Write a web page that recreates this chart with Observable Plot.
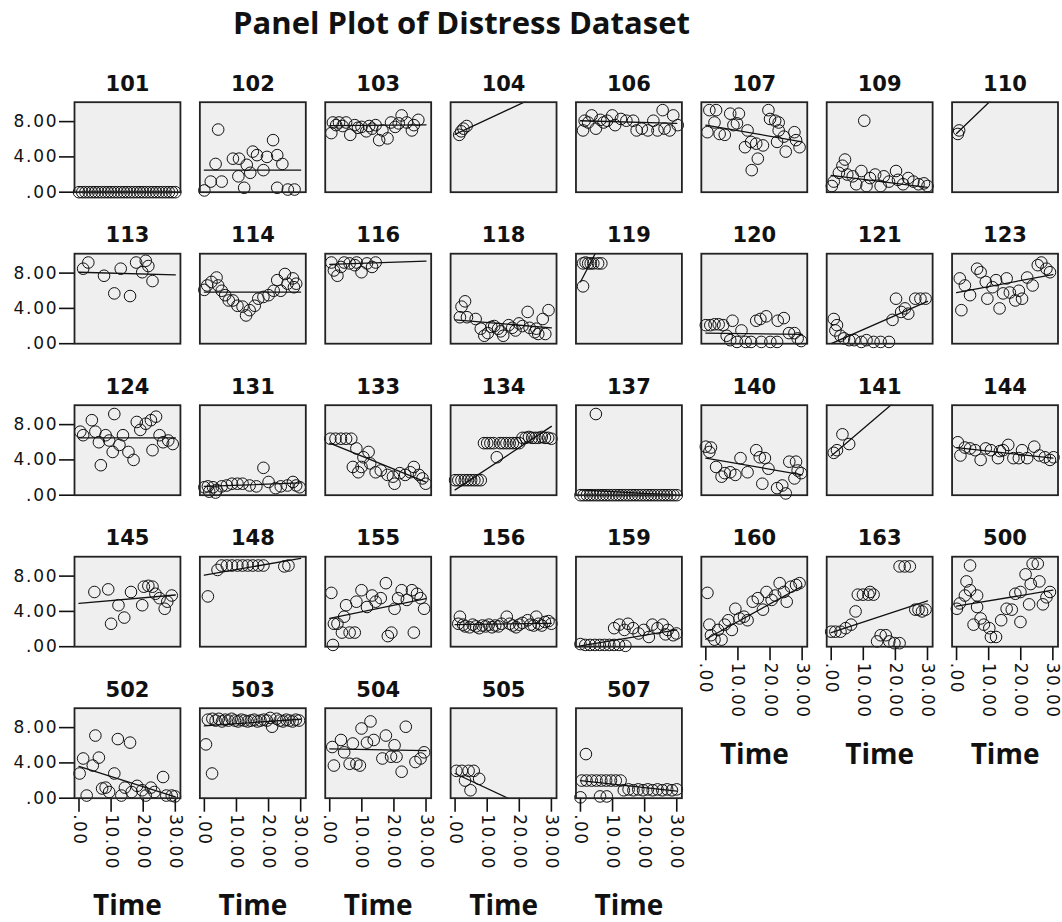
<!DOCTYPE html>
<html>
<head>
<meta charset="utf-8">
<script src="https://cdn.jsdelivr.net/npm/d3@7"></script>
<script src="https://cdn.jsdelivr.net/npm/@observablehq/plot@0.6"></script>
<style>
  body { margin: 0; background: #ffffff; }
  #wrap { position: relative; width: 1062px; height: 922px; overflow: hidden; font-family: "DejaVu Sans", sans-serif; }
  #title { position: absolute; left: 0; width: 923px; top: 7px; line-height: 31px; text-align: center;
           font-family: "Open Sans", sans-serif; font-size: 31px; font-weight: bold; color: #111; white-space: nowrap; }
  #chart { position: absolute; left: 0; top: 40px; }
  #chart svg { overflow: visible; }
  [aria-label="y-axis tick label"] text { letter-spacing: 1.8px; }
  [aria-label="x-axis tick label"] text { letter-spacing: 1.4px; }
</style>
</head>
<body>
<div id="wrap">
  <div id="title">Panel Plot of Distress Dataset</div>
  <div id="chart"></div>
</div>
<script>
// ---- data: [Time, Distress] per subject ----
const subjects = ["101","102","103","104","106","107","109","110",
                  "113","114","116","118","119","120","121","123",
                  "124","131","133","134","137","140","141","144",
                  "145","148","155","156","159","160","163","500",
                  "502","503","504","505","507"];

const s101 = [[0,0],[1,0],[2,0],[3,0],[4,0],[5,0],[6,0],[7,0],[8,0],[9,0],[10,0],[11,0],[12,0],[13,0],[14,0],[15,0],[16,0],[17,0],[18,0],[19,0],[20,0],[21,0],[22,0],[23,0],[24,0],[25,0],[26,0],[27,0],[28,0],[29,0],[30,0]];
const s102 = [[0,0.2],[2,1.2],[3.5,3.2],[4.3,7.1],[5.4,1.2],[8.9,3.8],[10.6,1.8],[10.8,3.8],[12.4,0.5],[13.2,3.1],[14.3,2.2],[15.1,4.6],[16.4,4.2],[18.4,2.5],[19.5,4.0],[21.4,5.9],[22.7,4.2],[22.7,0.5],[24.3,3.2],[26,0.3],[28.1,0.3]];
const s103 = [[0.5,6.7],[1,7.9],[2,7.6],[2.9,7.9],[4,7.5],[5.1,7.9],[6.4,6.5],[7.8,7.6],[8.8,7.3],[9.9,7.4],[11.4,6.9],[12.3,7.5],[13.2,7.2],[14.3,7.6],[15.4,5.9],[16.4,7.0],[18,6.1],[19.1,7.9],[20.4,7.4],[21.5,7.8],[22.4,8.7],[24,7.9],[25.6,7.0],[26.2,7.6],[27.6,8.2]];
const s104 = [[1.3,6.5],[1.9,6.9],[2.6,7.2],[3.6,7.5]];
const s106 = [[0.8,7.0],[1.3,8.1],[2.4,7.9],[3.5,8.7],[4.8,7.2],[6.2,8.2],[7.2,7.9],[8.3,8.1],[9.9,8.7],[10.8,7.6],[12.6,8.3],[14.3,8.1],[16.4,8.1],[17.5,7.0],[19.1,7.2],[21,7.0],[22.7,8.1],[24,7.0],[25.6,9.3],[26.2,7.2],[27.8,7.0],[28.9,8.7],[30.3,7.6]];
const s107 = [[0.5,6.8],[1.1,9.3],[2.7,7.9],[3.2,9.3],[4.3,6.6],[5.9,6.5],[7.6,8.9],[8.6,7.6],[9.7,7.8],[10.3,8.9],[12.2,5.1],[13,7.0],[14.1,5.7],[14.3,2.5],[15.7,5.5],[16.2,3.8],[17.8,5.3],[19.5,9.3],[20,8.3],[21.6,8.1],[22.2,5.7],[22.7,7.0],[22.7,7.9],[24.3,6.3],[24.9,4.6],[27.6,6.8],[28.1,5.9],[29.2,5.1]];
const s109 = [[0.2,0.7],[0.8,1.2],[2.4,2.2],[3.5,3.0],[4.3,3.7],[5,2.0],[6.7,1.8],[7.8,0.9],[9.4,2.4],[10.3,8.1],[11,0.7],[12.1,1.6],[13.7,2.0],[15.4,0.7],[16.4,1.8],[18,1.2],[20.2,2.4],[20.8,1.4],[22.4,0.9],[24,1.6],[25.6,1.2],[27.2,0.9],[28.9,1.0],[30,0.7]];
const s110 = [[0.4,6.6],[0.8,7.0]];
const s113 = [[1.3,8.5],[2.9,9.2],[7.8,7.7],[11,5.7],[13,8.5],[15.9,5.4],[17.8,9.2],[19.7,8.1],[20.8,9.4],[21.6,8.8],[22.9,7.1]];
const s114 = [[0,6.1],[0.9,6.6],[2.2,7.0],[3.8,7.5],[4.3,6.6],[5.4,6.0],[6.5,5.5],[7.6,4.9],[8.9,4.9],[10.3,4.3],[11.9,4.2],[13,3.2],[14.1,3.8],[15.7,4.3],[16.8,5.1],[18.4,5.3],[20,5.5],[21.6,6.0],[22.7,7.2],[23.8,6.0],[25.1,7.9],[25.9,6.8],[27.6,7.4],[27.9,6.4],[28.6,6.8]];
const s116 = [[0.5,9.2],[1.3,8.3],[2.4,7.7],[3.5,8.7],[4.5,9.2],[6.2,9.1],[7.8,8.9],[8.4,9.2],[9.9,8.1],[11.6,9.1],[13.2,8.7],[14.3,9.2]];
const s118 = [[1.5,3.0],[2,4.2],[3.1,4.8],[3.7,3.0],[6.4,2.8],[8,1.7],[9.1,0.9],[10.2,1.2],[11.3,1.9],[12.2,2.0],[13.4,1.7],[14.2,1.4],[15,0.9],[16.7,2.1],[17.8,1.8],[18.8,1.5],[19.9,2.3],[21,2.0],[22.6,3.6],[23.2,1.8],[24.8,1.3],[25.3,1.7],[25.9,1.1],[27.3,2.8],[28.1,1.1],[29.1,3.8]];
const s119 = [[0.8,6.5],[0.8,9.1],[1.6,9.2],[2.4,9.1],[3.2,9.1],[4.0,9.1],[5.5,9.1],[6.5,9.1]];
const s120 = [[0,2.1],[1.4,2.1],[2.7,2.2],[4,2.2],[5.4,2.1],[6.5,0.9],[7.6,0.4],[8.3,2.6],[9.7,0.2],[11.1,1.5],[12.4,0.2],[14.1,0.2],[15.7,2.6],[17,2.8],[17.3,0.2],[18.8,3.1],[20.1,0.2],[22.2,0.2],[22.4,2.6],[24.3,2.9],[25.9,1.2],[27.6,1.2],[28.6,0.6],[29.7,0.3]];
const s121 = [[0.8,2.8],[1.3,1.5],[1.8,2.1],[2.9,0.9],[4,0.6],[5.6,0.4],[7.2,0.4],[9.4,0.2],[11,0.4],[13.2,0.2],[15.4,0.2],[18,0.2],[19.1,2.7],[20.2,5.1],[21.8,3.6],[23,4.0],[24,3.4],[26.2,5.1],[27.8,5.1],[29.4,5.1]];
const s123 = [[1,7.4],[1.5,3.8],[2.6,6.6],[4.2,5.5],[6.4,8.5],[7.5,8.1],[9.1,7.0],[9.6,5.1],[11.2,6.4],[12.3,7.2],[13.4,4.0],[14.5,5.7],[15.6,7.4],[16.6,5.8],[18.3,4.9],[19.4,6.0],[20.4,5.1],[22,7.5],[23.7,6.6],[25.3,8.9],[26.4,9.2],[28,8.5],[29.1,8.1]];
const s124 = [[0.4,7.2],[1.3,6.8],[4,8.5],[5.1,7.2],[6.2,6.0],[6.8,3.4],[8.3,6.8],[9.4,6.2],[10.5,4.9],[11,9.2],[12.6,5.7],[13.7,6.8],[15.4,4.9],[17,4.0],[18,8.3],[19.1,7.4],[20.8,8.1],[22.4,8.5],[22.9,5.1],[24,8.9],[25.1,6.8],[26.2,6.0],[27.8,6.2],[29.2,5.8]];
const s131 = [[0,0.9],[1.1,1.0],[1.5,0.4],[2.7,0.9],[3.5,0.3],[3.8,0.6],[5.4,1.0],[7,1.1],[8.6,1.3],[10.3,1.3],[11.9,1.3],[14.1,1.1],[16.2,1.0],[18.4,3.1],[20,1.5],[22.2,0.8],[23.8,1.0],[25.9,1.1],[27.6,1.5],[28.6,1.1],[29.7,0.9]];
const s133 = [[0.2,6.4],[1.8,6.4],[3.5,6.4],[5.1,6.4],[6.7,6.4],[7.2,3.2],[8.3,5.3],[8.9,2.6],[9.9,3.2],[10.5,4.3],[12.1,4.9],[12.6,3.6],[14.3,2.6],[15.9,2.8],[18,2.3],[19.7,2.1],[20.2,1.3],[21.8,2.5],[23.5,2.3],[25.1,2.6],[26.2,3.2],[27.8,2.3],[28.9,1.9],[29.9,1.3]];
const s134 = [[0,1.7],[1,1.7],[2,1.7],[3,1.7],[4,1.7],[5,1.7],[6,1.7],[7,1.7],[8,1.7],[9,5.9],[10,5.9],[11,5.9],[12,5.9],[13,4.3],[14,5.9],[15,5.9],[16,5.9],[17,5.9],[18,5.9],[19,5.9],[20,5.9],[21,6.5],[22,6.5],[23,6.6],[24,6.5],[25,6.5],[26,6.5],[27,6.6],[28,6.5],[29,6.5],[30,6.4]];
const s137 = [[0,0],[1,0],[2,0],[3,0],[4,0],[4.8,9.2],[5,0],[6,0],[7,0],[8,0],[9,0],[10,0],[11,0],[12,0],[13,0],[14,0],[15,0],[16,0],[17,0],[18,0],[19,0],[20,0],[21,0],[22,0],[23,0],[24,0],[25,0],[26,0],[27,0],[28,0],[29,0],[30,0]];
const s140 = [[0,5.5],[1.1,4.9],[1.6,5.4],[3.2,3.2],[4.9,2.1],[5.9,2.5],[7.6,2.6],[9.2,2.3],[10.8,4.2],[13,2.6],[15.7,5.1],[16.8,4.3],[17.6,1.3],[18.4,4.2],[19.5,3.0],[22.2,0.8],[23.8,1.1],[24.9,0.2],[26,3.8],[27.6,1.9],[28.1,3.8],[28.6,2.8],[29.7,2.5]];
const s141 = [[0.8,4.8],[1.8,5.1],[3.5,6.9],[5.6,5.8]];
const s144 = [[0.4,6.0],[1.2,4.5],[2.6,5.4],[4.2,5.3],[5.8,5.1],[7.5,4.0],[9.1,5.3],[10.7,5.1],[12.9,4.2],[13.5,5.0],[14.5,5.1],[16.1,5.7],[17.7,4.2],[19.4,4.2],[20.4,5.1],[22,4.2],[24.2,5.5],[25.8,4.5],[27.5,4.3],[29.1,4.0],[30.2,4.3]];
const s145 = [[4.8,6.2],[9.1,6.5],[10,2.6],[12.3,4.7],[14.1,3.3],[16.2,6.2],[19.7,4.7],[20.2,6.8],[21.6,6.9],[22.9,6.8],[23.8,6.0],[25.1,5.5],[26.7,4.3],[27.5,5.1],[28.9,5.8]];
const s148 = [[1.1,5.7],[4.1,8.7],[5.4,9.2],[7,9.2],[8.6,9.2],[10.3,9.2],[11.9,9.2],[13.5,9.2],[15.1,9.2],[16.8,9.2],[18.4,9.2],[24.9,9.1],[26.2,9.2]];
const s155 = [[0.5,6.1],[1,0.2],[1.3,2.6],[2.4,2.6],[3.8,1.6],[4.5,3.4],[5.1,4.7],[6.2,1.6],[7.8,1.6],[8.3,5.1],[9.9,6.4],[11.6,4.5],[13.2,5.8],[14.3,5.1],[15.9,5.5],[17.5,7.2],[18.1,1.2],[19.2,1.6],[20.2,4.3],[21.3,5.5],[22.4,6.4],[24,5.3],[25.6,6.4],[26.2,1.6],[27.2,6.0],[28.3,5.5],[29.4,4.3]];
const s156 = [[1,2.6],[1.5,3.4],[2.5,2.5],[3.1,2.3],[4.5,2.2],[5.5,2.5],[6.5,2.3],[7.5,2.1],[8.5,2.4],[9.5,2.3],[10.5,2.5],[11.5,2.2],[12.5,2.4],[13.5,2.3],[14.5,2.6],[16.1,3.4],[17,2.6],[18,2.4],[19,2.2],[20,2.5],[21,2.7],[22.6,3.0],[23.5,2.5],[24.5,2.4],[25.3,3.4],[26,2.6],[27,2.4],[28,2.8],[29.1,2.9],[30,2.6]];
const s159 = [[0,0.3],[1.5,0.2],[3,0.2],[4.5,0.2],[6,0.2],[7.5,0.2],[9,0.2],[10.5,2.1],[10.5,0.2],[12,0.2],[12.1,2.5],[13.7,1.9],[14,0.1],[14.8,2.6],[16.4,2.1],[18.1,1.5],[19.7,1.9],[21.3,1.1],[22.4,2.5],[24,2.1],[25.6,2.5],[26.5,1.4],[27.2,1.9],[28.9,1.3],[29.9,1.5]];
const s160 = [[0.5,6.1],[1.1,2.5],[1.6,1.3],[2.7,0.8],[3.8,1.9],[4.9,0.8],[5.9,2.5],[7,3.0],[8.1,1.9],[9.2,4.3],[10.5,3.2],[11.9,3.4],[13,3.0],[14.6,5.1],[16.2,5.5],[17.8,4.2],[18.9,6.2],[20.5,5.3],[21.6,5.8],[23,7.2],[24.3,6.2],[25.2,5.1],[26.5,6.8],[28.1,7.0],[29.2,7.2]];
const s163 = [[0,1.7],[1.3,1.7],[2.9,1.7],[4.5,2.1],[6.2,2.5],[7.6,4.0],[8.3,5.9],[9.9,5.9],[11.6,5.9],[12.1,6.2],[13.2,5.9],[14.3,0.6],[15.4,1.3],[17,1.3],[18.1,0.6],[19.7,0.4],[21.3,0.4],[21.3,9.1],[22.9,9.1],[24.5,9.1],[26.2,4.2],[27.2,4.2],[28.3,4.0],[29.4,4.2]];
const s500 = [[0.1,4.3],[1,4.9],[2.6,5.8],[3.1,7.4],[4.2,9.2],[4.2,6.4],[5.3,2.5],[6.4,5.8],[6.4,4.5],[7.5,3.2],[8.5,2.5],[10.2,2.1],[10.7,1.1],[12.3,1.1],[13.9,3.0],[15.6,4.3],[17.2,4.2],[18.3,6.0],[19.9,6.2],[19.9,2.8],[21.5,8.2],[22.6,4.8],[23.1,7.1],[23.7,9.4],[25.3,9.4],[25.8,7.4],[26.9,4.8],[28,5.6],[29.1,6.2]];
const s502 = [[0.2,2.8],[1.3,4.5],[2.4,0.3],[4.3,3.7],[5.1,7.1],[6.2,4.6],[7.2,1.1],[8.3,1.2],[9.4,0.7],[11,2.8],[12.1,6.7],[13.2,0.3],[14.3,1.2],[15.9,6.3],[16.4,0.7],[18.1,1.4],[19.7,0.9],[20.8,0.3],[22.4,1.2],[23.5,0.7],[26.2,2.4],[27.2,0.3],[28.9,0.3],[29.9,0.2]];
const s503 = [[0.5,6.1],[1.1,8.9],[2.4,2.8],[2.5,9.0],[3.5,8.8],[4.5,9.0],[5.5,8.7],[6.5,8.9],[7.5,8.8],[8.5,9.0],[9.5,8.8],[10.5,8.7],[11.5,8.9],[12.5,8.8],[13.5,8.7],[14.5,8.8],[15.5,8.9],[16.5,8.7],[17.5,8.8],[18.5,8.9],[19.5,8.8],[20.5,9.1],[21.1,8.1],[22.5,9.0],[23.5,8.8],[24.5,8.7],[25.5,8.9],[26.5,8.8],[27.5,8.7],[28.5,8.9],[29.5,8.8]];
const s504 = [[0.8,5.8],[1.3,3.7],[3.5,6.6],[4.5,5.2],[6.2,3.9],[7.2,6.2],[8.3,3.9],[9.4,3.7],[9.9,7.9],[11.6,6.3],[12.7,8.7],[13.7,6.6],[16.4,4.5],[17.5,7.1],[19.1,4.7],[20.2,6.0],[20.8,4.7],[22.4,3.0],[23.7,8.1],[26.7,4.1],[28.3,4.5],[29.4,5.2]];
const s505 = [[0.4,3.1],[2.1,3.1],[3.1,2.0],[4.2,3.1],[4.8,0.9],[5.8,3.1],[7.5,2.2]];
const s507 = [[0,0.1],[0.4,2.0],[1.7,5.0],[1.9,2.0],[3.5,2.0],[5,2.0],[6.1,0.2],[6.5,2.0],[8,2.0],[8.2,0.2],[9.5,2.0],[11,2.0],[12.5,2.0],[13.5,0.9],[15,1.0],[16.5,0.9],[18,1.0],[19.5,0.9],[21,1.0],[22.5,0.9],[24,1.0],[25.5,0.9],[27,1.0],[28.5,0.9],[30,1.0]];

// fitted line (intercept, slope) per subject
const intercepts = [0, 2.5, 7.55, 6.55, 8.1, 7.6, 1.9, 6.65,
                    8.1, 5.85, 9.0, 2.7, 7.0, 1.2, 0, 5.8,
                    6.5, 1.0, 5.9, 0.6, 0.6, 4.2, 4.45, 5.4,
                    4.9, 8.1, 3.2, 2.5, 0.1, 0.85, 1.6, 4.6,
                    3.6, 8.2, 5.6, 2.8, 2.0];
const slopes = [0, 0, 0.003, 0.17, -0.01, -0.063, -0.045, 0.35,
                -0.01, 0, 0.012, -0.03, 0.7, -0.005, 0.16, 0.068,
                0, 0.013, -0.147, 0.24, -0.02, -0.063, 0.31, -0.04,
                0.032, 0.064, 0.075, 0.005, 0.06, 0.2, 0.12, 0.06,
                -0.115, 0.025, -0.007, -0.17, -0.04];

const timeRange = [0, 30];
const xTicks = [0, 10, 20, 30];
const xTickLabels = [".00", "10.00", "20.00", "30.00"];
const yTicks = [0, 4, 8];
const yTickLabels = [".00", "4.00", "8.00"];

const series = [s101,s102,s103,s104,s106,s107,s109,s110,
                s113,s114,s116,s118,s119,s120,s121,s123,
                s124,s131,s133,s134,s137,s140,s141,s144,
                s145,s148,s155,s156,s159,s160,s163,s500,
                s502,s503,s504,s505,s507];

const nCols = 8;
const points = [];
series.forEach((pts, i) => pts.forEach(([t, v]) => points.push({subject: subjects[i], time: t, value: v, col: i % nCols, row: Math.floor(i / nCols)})));
const fits = [];
subjects.forEach((s, i) => timeRange.forEach(t => fits.push({subject: s, time: t, value: intercepts[i] + slopes[i] * t, col: i % nCols, row: Math.floor(i / nCols)})));
const labels = subjects.map((s, i) => ({subject: s, col: i % nCols, row: Math.floor(i / nCols)}));

const chart = Plot.plot({
  width: 1062,
  height: 882,
  marginLeft: 74,
  marginRight: 4.5,
  marginTop: 61.7,
  marginBottom: 124.3,
  style: {fontFamily: "'DejaVu Sans', sans-serif", color: "#111", background: "transparent", overflow: "visible"},
  x: {domain: [-1.4, 31.6]},
  y: {domain: [0, 10.2]},
  fx: {domain: d3.range(8), paddingInner: 0.155, paddingOuter: 0, axis: null, round: false},
  fy: {domain: d3.range(5), paddingInner: 0.406, paddingOuter: 0, axis: null, round: false},
  marks: [
    Plot.frame({fill: "#efefef"}),
    Plot.axisY(yTicks, {tickSize: 15, tickPadding: 1, strokeWidth: 1.6, fontSize: 17, label: null,
      tickFormat: d => yTickLabels[yTicks.indexOf(d)]}),
    Plot.axisX(xTicks, {tickSize: 14, tickPadding: 2, strokeWidth: 1.6, fontSize: 17, tickRotate: 90, label: null,
      tickFormat: d => xTickLabels[xTicks.indexOf(d)]}),
    Plot.line(fits, {x: "time", y: "value", z: "subject", fx: "col", fy: "row", stroke: "#111", strokeWidth: 1.3, clip: "frame"}),
    Plot.dot(points, {x: "time", y: "value", fx: "col", fy: "row", r: 5.8, stroke: "#111", strokeWidth: 1, fill: "none"}),
    Plot.frame({stroke: "#222", strokeWidth: 1.8}),
    Plot.text(labels, {fx: "col", fy: "row", text: "subject", frameAnchor: "top", lineAnchor: "bottom", dy: -11.5,
      fontSize: 21, fontWeight: "bold", fill: "#111", ariaLabel: "facet title"}),
    Plot.text(["Time"], {frameAnchor: "bottom", facetAnchor: "bottom-empty", lineAnchor: "middle", dy: 108,
      fontSize: 28, fontWeight: "bold", fontFamily: "'Open Sans', sans-serif", fill: "#111", ariaLabel: "axis title"})
  ]
});
// widen the facet titles horizontally, like the reference's wide bold digits
chart.querySelectorAll('[aria-label="facet title"] text').forEach(el => {
  const t = el.getAttribute("transform") || "";
  el.setAttribute("transform", t + " scale(1.22,1)");
});
document.getElementById("chart").appendChild(chart);
</script>
</body>
</html>
